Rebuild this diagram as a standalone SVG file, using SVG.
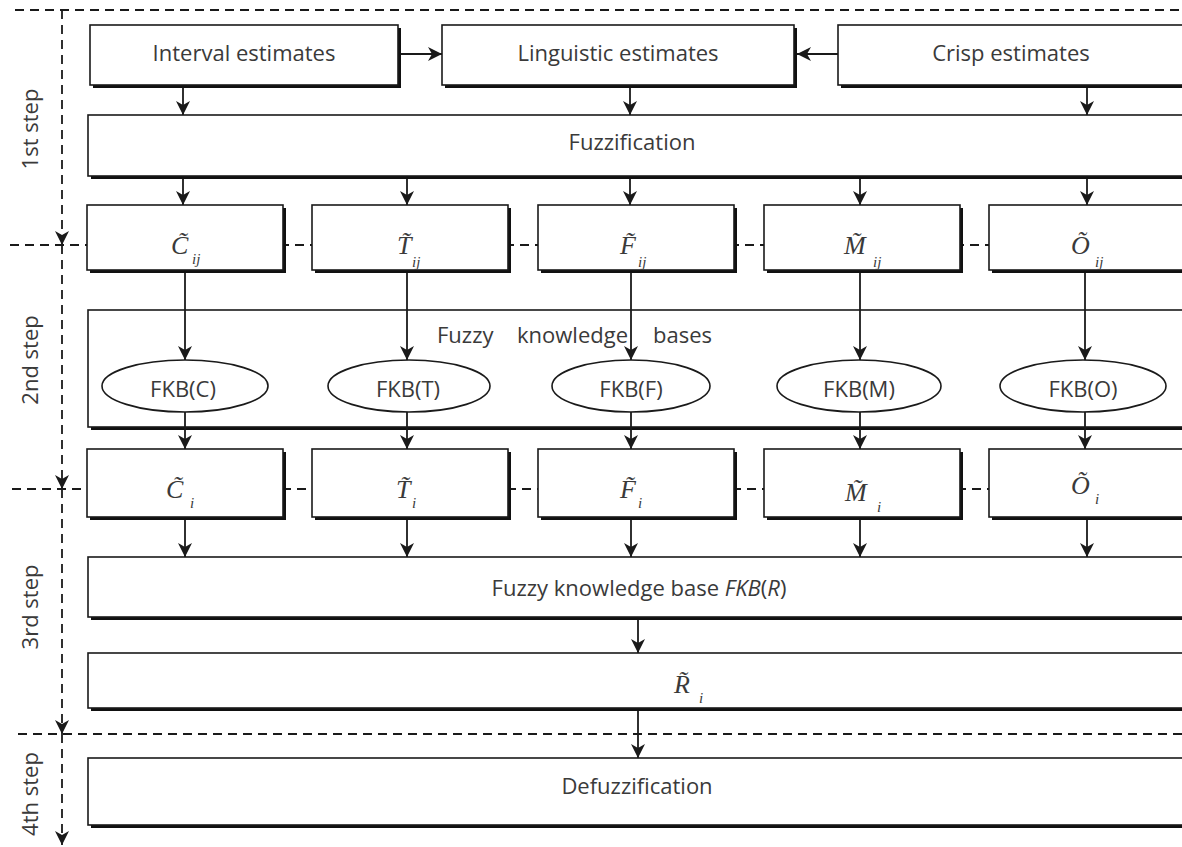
<svg xmlns="http://www.w3.org/2000/svg" width="1182" height="847" viewBox="0 0 1182 847">
<style>
.b{fill:#fff;stroke:#1a1a1a;stroke-width:1.6}
.s{fill:#111}
.t{font-family:"Open Sans","Noto Sans",sans-serif;font-size:22px;fill:#3a3a3a}
.m{font-family:"Liberation Serif","Times New Roman",serif;font-style:italic;font-size:26px;fill:#3a3a3a}
.sub{font-size:15px}
.c{stroke:#1a1a1a;stroke-width:1.8;fill:none}
.d{stroke:#1a1a1a;stroke-width:1.8;fill:none;stroke-dasharray:9 6}
.e{fill:#fff;stroke:#1a1a1a;stroke-width:1.6}
</style>
<defs>
<marker id="ah" viewBox="0 0 14 14" refX="14" refY="7" markerWidth="14" markerHeight="14" orient="auto" markerUnits="userSpaceOnUse">
<path d="M0,0 L14,7 L0,14 L4,7 Z" fill="#1a1a1a"/>
</marker>
</defs>
<rect width="1182" height="847" fill="#fff"/>
<g id="steps">
<path class="d" d="M15,10 H1182"/>
<path class="d" d="M10,245 H1182"/>
<path class="d" d="M12,489 H1182"/>
<path class="d" d="M18,734 H1182"/>
<path class="d" d="M62,10 V245" marker-end="url(#ah)"/>
<path class="d" d="M62,245 V489" marker-end="url(#ah)"/>
<path class="d" d="M62,489 V734" marker-end="url(#ah)"/>
<path class="d" d="M62,734 V845" marker-end="url(#ah)"/>
<text class="t" transform="translate(38,129) rotate(-90)" text-anchor="middle">1st step</text>
<text class="t" transform="translate(38,360) rotate(-90)" text-anchor="middle">2nd step</text>
<text class="t" transform="translate(38,607) rotate(-90)" text-anchor="middle">3rd step</text>
<text class="t" transform="translate(38,794) rotate(-90)" text-anchor="middle">4th step</text>
</g>
<g id="interval">
<rect class="s" x="93" y="28" width="308" height="60"/>
<rect class="b" x="90" y="25" width="308" height="60"/>
<text class="t" x="244" y="61" text-anchor="middle">Interval estimates</text>
</g>
<g id="linguistic">
<rect class="s" x="445" y="28" width="352" height="60"/>
<rect class="b" x="442" y="25" width="352" height="60"/>
<text class="t" x="618" y="61" text-anchor="middle">Linguistic estimates</text>
</g>
<g id="crisp">
<rect class="s" x="841" y="28" width="360" height="60"/>
<rect class="b" x="838" y="25" width="360" height="60"/>
<text class="t" x="1011" y="61" text-anchor="middle">Crisp estimates</text>
</g>
<g id="fuzzification">
<rect class="s" x="91" y="118" width="1110" height="61"/>
<rect class="b" x="88" y="115" width="1110" height="61"/>
<text class="t" x="632" y="150" text-anchor="middle">Fuzzification</text>
</g>
<g id="Cij">
<rect class="s" x="90" y="208" width="196" height="65"/>
<rect class="b" x="87" y="205" width="196" height="65"/>
<text class="m"><tspan x="171" y="254">C&#x303;</tspan><tspan class="sub" x="192" y="264">ij</tspan></text>
</g>
<g id="Tij">
<rect class="s" x="315" y="208" width="196" height="65"/>
<rect class="b" x="312" y="205" width="196" height="65"/>
<text class="m"><tspan x="397" y="254">T&#x303;</tspan><tspan class="sub" x="412" y="267">ij</tspan></text>
</g>
<g id="Fij">
<rect class="s" x="541" y="208" width="196" height="65"/>
<rect class="b" x="538" y="205" width="196" height="65"/>
<text class="m"><tspan x="620" y="254">F&#x303;</tspan><tspan class="sub" x="638" y="267">ij</tspan></text>
</g>
<g id="Mij">
<rect class="s" x="767" y="208" width="196" height="65"/>
<rect class="b" x="764" y="205" width="196" height="65"/>
<text class="m"><tspan x="844" y="254">M&#x303;</tspan><tspan class="sub" x="873" y="267">ij</tspan></text>
</g>
<g id="Oij">
<rect class="s" x="992" y="208" width="210" height="65"/>
<rect class="b" x="989" y="205" width="210" height="65"/>
<text class="m"><tspan x="1071" y="254">O&#x303;</tspan><tspan class="sub" x="1095" y="267">ij</tspan></text>
</g>
<g id="fkb">
<rect class="s" x="91" y="313" width="1110" height="117"/>
<rect class="b" x="88" y="310" width="1110" height="117"/>
<text class="t" y="343"><tspan x="437">Fuzzy</tspan><tspan x="517">knowledge</tspan><tspan x="653">bases</tspan></text>
</g>
<g id="fkbC">
<ellipse class="e" cx="185" cy="386" rx="83" ry="26"/>
<text class="t" x="183" y="397" text-anchor="middle">FKB(C)</text>
</g>
<g id="fkbT">
<ellipse class="e" cx="409" cy="386" rx="81" ry="26"/>
<text class="t" x="408" y="397" text-anchor="middle">FKB(T)</text>
</g>
<g id="fkbF">
<ellipse class="e" cx="631" cy="386" rx="79" ry="26"/>
<text class="t" x="631" y="397" text-anchor="middle">FKB(F)</text>
</g>
<g id="fkbM">
<ellipse class="e" cx="859" cy="386" rx="82" ry="26"/>
<text class="t" x="859" y="397" text-anchor="middle">FKB(M)</text>
</g>
<g id="fkbO">
<ellipse class="e" cx="1083" cy="386" rx="83" ry="26"/>
<text class="t" x="1083" y="397" text-anchor="middle">FKB(O)</text>
</g>
<g id="Ci">
<rect class="s" x="90" y="452" width="196" height="68"/>
<rect class="b" x="87" y="449" width="196" height="68"/>
<text class="m"><tspan x="166" y="498">C&#x303;</tspan><tspan class="sub" x="190" y="508">i</tspan></text>
</g>
<g id="Ti">
<rect class="s" x="315" y="452" width="196" height="68"/>
<rect class="b" x="312" y="449" width="196" height="68"/>
<text class="m"><tspan x="396" y="498">T&#x303;</tspan><tspan class="sub" x="412" y="508">i</tspan></text>
</g>
<g id="Fi">
<rect class="s" x="541" y="452" width="196" height="68"/>
<rect class="b" x="538" y="449" width="196" height="68"/>
<text class="m"><tspan x="620" y="498">F&#x303;</tspan><tspan class="sub" x="638" y="508">i</tspan></text>
</g>
<g id="Mi">
<rect class="s" x="767" y="452" width="196" height="68"/>
<rect class="b" x="764" y="449" width="196" height="68"/>
<text class="m"><tspan x="845" y="501">M&#x303;</tspan><tspan class="sub" x="877" y="512">i</tspan></text>
</g>
<g id="Oi">
<rect class="s" x="992" y="452" width="210" height="68"/>
<rect class="b" x="989" y="449" width="210" height="68"/>
<text class="m"><tspan x="1071" y="494">O&#x303;</tspan><tspan class="sub" x="1095" y="504">i</tspan></text>
</g>
<g id="fkbR">
<rect class="s" x="91" y="560" width="1110" height="60"/>
<rect class="b" x="88" y="557" width="1110" height="60"/>
<text class="t" x="639" y="596" text-anchor="middle">Fuzzy knowledge base <tspan font-style="italic">FKB</tspan>(<tspan font-style="italic">R</tspan>)</text>
</g>
<g id="Ri">
<rect class="s" x="91" y="656" width="1110" height="55"/>
<rect class="b" x="88" y="653" width="1110" height="55"/>
<text class="m"><tspan x="674" y="693">R&#x303;</tspan><tspan class="sub" x="699" y="703">i</tspan></text>
</g>
<g id="defuzz">
<rect class="s" x="91" y="761" width="1110" height="67"/>
<rect class="b" x="88" y="758" width="1110" height="67"/>
<text class="t" x="637" y="794" text-anchor="middle">Defuzzification</text>
</g>
<g id="connectors">
<path class="c" d="M401,54 H442" marker-end="url(#ah)"/>
<path class="c" d="M838,54 H797" marker-end="url(#ah)"/>
<path class="c" d="M183,88 V115" marker-end="url(#ah)"/>
<path class="c" d="M630,88 V115" marker-end="url(#ah)"/>
<path class="c" d="M1087,88 V115" marker-end="url(#ah)"/>
<path class="c" d="M183,179 V205" marker-end="url(#ah)"/>
<path class="c" d="M407,179 V205" marker-end="url(#ah)"/>
<path class="c" d="M630,179 V205" marker-end="url(#ah)"/>
<path class="c" d="M860,179 V205" marker-end="url(#ah)"/>
<path class="c" d="M1087,179 V205" marker-end="url(#ah)"/>
<path class="c" d="M185,273 V360" marker-end="url(#ah)"/>
<path class="c" d="M407,273 V360" marker-end="url(#ah)"/>
<path class="c" d="M631,273 V360" marker-end="url(#ah)"/>
<path class="c" d="M860,273 V360" marker-end="url(#ah)"/>
<path class="c" d="M1085,273 V360" marker-end="url(#ah)"/>
<path class="c" d="M185,412 V449" marker-end="url(#ah)"/>
<path class="c" d="M407,412 V449" marker-end="url(#ah)"/>
<path class="c" d="M631,412 V449" marker-end="url(#ah)"/>
<path class="c" d="M860,412 V449" marker-end="url(#ah)"/>
<path class="c" d="M1085,412 V449" marker-end="url(#ah)"/>
<path class="c" d="M185,520 V557" marker-end="url(#ah)"/>
<path class="c" d="M407,520 V557" marker-end="url(#ah)"/>
<path class="c" d="M631,520 V557" marker-end="url(#ah)"/>
<path class="c" d="M860,520 V557" marker-end="url(#ah)"/>
<path class="c" d="M1087,520 V557" marker-end="url(#ah)"/>
<path class="c" d="M638,620 V653" marker-end="url(#ah)"/>
<path class="c" d="M638,711 V758" marker-end="url(#ah)"/>
</g>
</svg>
